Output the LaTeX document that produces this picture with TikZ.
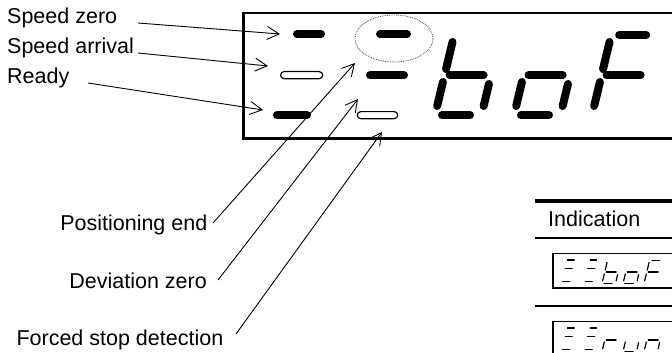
\documentclass[tikz,border=0pt]{standalone}
\usepackage{fontspec}
\setmainfont{Liberation Sans}
\usetikzlibrary{arrows.meta}
\newcommand\dsega{(8,80)--(35,80)}
\newcommand\dsegb{(46.5,46)--(46.5,72)}
\newcommand\dsegc{(46.5,9)--(46.5,31)}
\newcommand\dsegd{(7,0)--(35,0)}
\newcommand\dsege{(0,9)--(0,33)}
\newcommand\dsegf{(0,46)--(0,73)}
\newcommand\dsegg{(5,40)--(39,40)}
\newcommand\bigdigit[2]{%
  \begin{scope}[shift={(#1,115)}, xslant=0.24, y=1pt]
    \foreach \s in {#2} {\draw[seg] \s;}
  \end{scope}}
\newcommand\smalldigit[3]{%
  \begin{scope}[shift={(#1,#2)}, scale=0.29, xslant=0.24, y=1pt]
    \foreach \s in {#3} {\draw[smallseg] \s;}
  \end{scope}}
\begin{document}
\begin{tikzpicture}[x=1pt,y=-1pt,
  lbl/.style={font=\fontsize{21.5}{26}\selectfont, inner sep=0pt},
  ptr/.style={line width=0.9pt, -{Straight Barb[length=12pt,width=13pt,line width=0.9pt]}},
  seg/.style={line width=8pt, line cap=round},
  hollow/.style={line width=1.2pt, rounded corners=3.5pt},
  smallseg/.style={line width=1.2pt, line cap=round},
  frame/.style={line width=2.5pt},
  rulethick/.style={line width=3.5pt},
  rulethin/.style={line width=2pt},
  smallbox/.style={line width=1.3pt}]
\useasboundingbox (0,0) rectangle (672,353);
\clip (0,0) rectangle (672,353);

% main display frame
\draw[frame] (690,13) -- (243.5,13) -- (243.5,138.3) -- (690,138.3);

% status segments, column 1
\draw[seg] (297,34) -- (321,34);
\draw[hollow] (280.6,71.6) rectangle (322.7,78.7);
\draw[seg] (277,115) -- (307,115);
% status segments, column 2
\draw[seg] (380,34) -- (407,34);
\draw[seg] (370,75.5) -- (404,75.5);
\draw[hollow] (357.3,111.6) rectangle (397.7,118.7);
% dotted ellipse
\draw[densely dotted, line width=0.8pt, black!70] (394,38.5) ellipse [x radius=39pt, y radius=23.5pt];

% big digits b o F
\bigdigit{435}{\dsegf,\dsege,\dsegg,\dsegc,\dsegd}
\bigdigit{514}{\dsegg,\dsege,\dsegc,\dsegd}
\bigdigit{592}{\dsega,\dsegf,\dsegg,\dsege}

% labels
\node[lbl, anchor=base west] (sz) at (7,24) {Speed zero};
\node[lbl, anchor=base west] (sa) at (7,54) {Speed arrival};
\node[lbl, anchor=base west] (rd) at (7,83) {Ready};
\node[lbl, anchor=base east] (pe) at (207.5,230) {Positioning end};
\node[lbl, anchor=base east] (dz) at (207,288) {Deviation zero};
\node[lbl, anchor=base west] (fs) at (16.3,345) {Forced stop detection};

% connector ends
\coordinate (szS) at (138,23);   \coordinate (szT) at (280,34);
\coordinate (saS) at (138,53);   \coordinate (saT) at (268,66);
\coordinate (rdS) at (88,83);    \coordinate (rdT) at (263,110);
\coordinate (peS) at (213,223);  \coordinate (peT) at (355,63);
\coordinate (dzS) at (218,280);  \coordinate (dzT) at (358,99);
\coordinate (fsS) at (236,334);  \coordinate (fsT) at (382,132);
\draw[ptr] (szS) -- (szT);
\draw[ptr] (saS) -- (saT);
\draw[ptr] (rdS) -- (rdT);
\draw[ptr] (peS) -- (peT);
\draw[ptr] (dzS) -- (dzT);
\draw[ptr] (fsS) -- (fsT);

% table
\draw[rulethick] (535,201) -- (690,201);
\node[lbl, anchor=base west] (ind) at (548,226.7) {Indication};
\draw[rulethin] (535,238) -- (690,238);
\draw[smallbox] (690,253.5) -- (553,253.5) -- (553,288) -- (690,288);
\draw[rulethin] (535,305.5) -- (690,305.5);
\draw[smallbox] (690,321.5) -- (553,321.5) -- (553,370);

% small display 1: status dashes and boF
\foreach \dy in {0,68} {
  \draw[smallseg] (567.5,260+\dy) -- (574.2,260+\dy);
  \draw[smallseg] (565.2,268.3+\dy) -- (572.2,268.3+\dy);
  \draw[smallseg] (562.5,281.7+\dy) -- (569.8,281.7+\dy);
  \draw[smallseg] (590.2,260+\dy) -- (596.5,260+\dy);
  \draw[smallseg] (587.5,268.3+\dy) -- (594.8,268.3+\dy);
  \draw[smallseg] (585.2,281.7+\dy) -- (592.2,281.7+\dy);
}
\smalldigit{602}{283.5}{\dsegf,\dsege,\dsegg,\dsegc,\dsegd}
\smalldigit{623}{283.5}{\dsegg,\dsege,\dsegc,\dsegd}
\smalldigit{644}{283.5}{\dsega,\dsegf,\dsegg,\dsege}
% small display 2: run
\smalldigit{602}{351.5}{\dsege,\dsegg}
\smalldigit{623}{351.5}{\dsegc,\dsegd,\dsege}
\smalldigit{644}{351.5}{\dsegc,\dsege,\dsegg}
\end{tikzpicture}
\end{document}
